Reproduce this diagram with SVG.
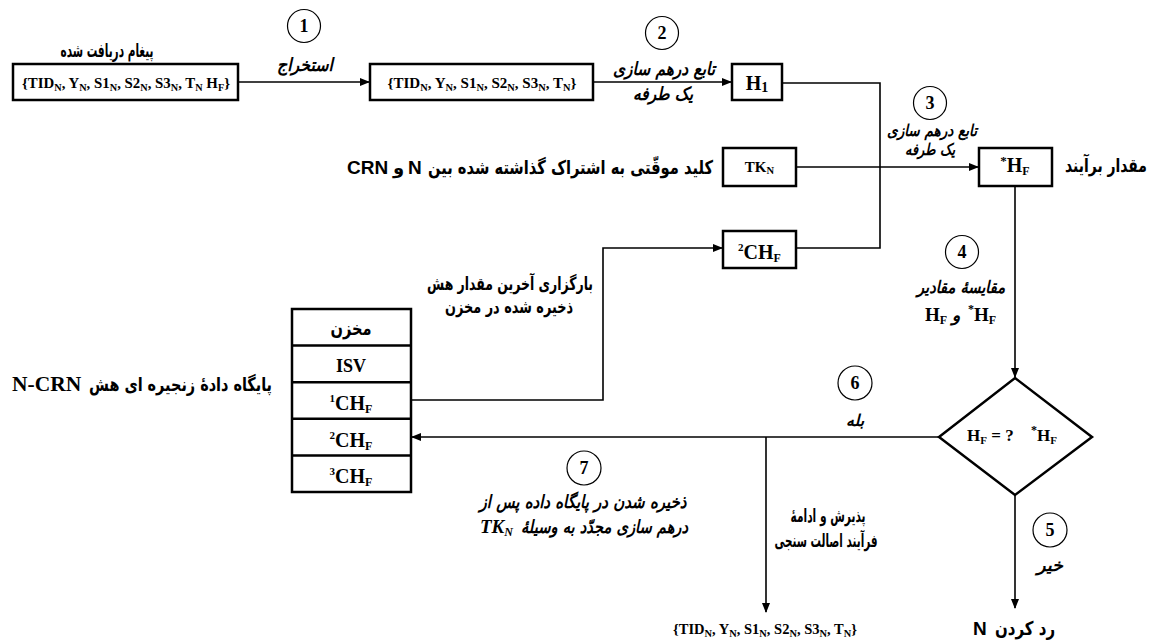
<svg xmlns="http://www.w3.org/2000/svg" width="1152" height="641" viewBox="0 0 1152 641">
<defs>
<style>
.box{fill:#fff;stroke:#000;stroke-width:2.5}
.conn{fill:none;stroke:#000;stroke-width:1.6}
.circ{fill:#fff;stroke:#000;stroke-width:1.2}
.num{font-family:"Liberation Serif",serif;font-weight:bold;font-size:18px;text-anchor:middle}
.lat{font-family:"Liberation Serif",serif;font-weight:bold}
.sans{font-family:"Liberation Sans",Arial,sans-serif;font-weight:bold}
.fa{font-family:"DejaVu Sans",sans-serif;font-weight:bold}
.fai{font-family:"DejaVu Sans",sans-serif;font-weight:bold;font-style:italic}
.mid{text-anchor:middle}
</style>
<marker id="ah" markerWidth="10" markerHeight="8" refX="9" refY="4" orient="auto" markerUnits="userSpaceOnUse"><path d="M0,0 L10,4 L0,8 z" fill="#000"/></marker>
</defs>
<rect width="1152" height="641" fill="#fff"/>

<g id="connectors">
<path class="conn" d="M238,82 H369" marker-end="url(#ah)"/>
<path class="conn" d="M593,82 H731" marker-end="url(#ah)"/>
<path class="conn" d="M782,83 H880 V248 H796"/>
<path class="conn" d="M796,167 H978" marker-end="url(#ah)"/>
<path class="conn" d="M1015,186 V377" marker-end="url(#ah)"/>
<path class="conn" d="M939,437 H412" marker-end="url(#ah)"/>
<path class="conn" d="M766,437 V612" marker-end="url(#ah)"/>
<path class="conn" d="M1015,495 V608" marker-end="url(#ah)"/>
<path class="conn" d="M411,400 H603 V248 H722" marker-end="url(#ah)"/>
</g>

<g id="msg-received">
<text class="fa mid" x="107" y="57" font-size="19" textLength="93" lengthAdjust="spacingAndGlyphs">پیغام دریافت شده</text>
<rect class="box" x="13" y="64" width="225" height="36"/>
<text class="lat mid" x="126" y="88" font-size="14.5" textLength="208" lengthAdjust="spacingAndGlyphs">{TID<tspan font-size="10" dy="3">N</tspan><tspan dy="-3">, Y</tspan><tspan font-size="10" dy="3">N</tspan><tspan dy="-3">, S1</tspan><tspan font-size="10" dy="3">N</tspan><tspan dy="-3">, S2</tspan><tspan font-size="10" dy="3">N</tspan><tspan dy="-3">, S3</tspan><tspan font-size="10" dy="3">N</tspan><tspan dy="-3">, T</tspan><tspan font-size="10" dy="3">N</tspan><tspan dy="-3"> H</tspan><tspan font-size="10" dy="3">F</tspan><tspan dy="-3">}</tspan></text>
</g>

<g id="step1">
<circle class="circ" cx="304" cy="26" r="16.5"/>
<text class="num" x="304" y="32">1</text>
<text class="fai mid" x="305" y="71" font-size="18" textLength="56" lengthAdjust="spacingAndGlyphs">استخراج</text>
</g>

<g id="extracted">
<rect class="box" x="370" y="64" width="223" height="36"/>
<text class="lat mid" x="482" y="88" font-size="14.5" textLength="189" lengthAdjust="spacingAndGlyphs">{TID<tspan font-size="10" dy="3">N</tspan><tspan dy="-3">, Y</tspan><tspan font-size="10" dy="3">N</tspan><tspan dy="-3">, S1</tspan><tspan font-size="10" dy="3">N</tspan><tspan dy="-3">, S2</tspan><tspan font-size="10" dy="3">N</tspan><tspan dy="-3">, S3</tspan><tspan font-size="10" dy="3">N</tspan><tspan dy="-3">, T</tspan><tspan font-size="10" dy="3">N</tspan><tspan dy="-3">}</tspan></text>
</g>

<g id="step2">
<circle class="circ" cx="662" cy="33" r="16.5"/>
<text class="num" x="662" y="39">2</text>
<text class="fai mid" x="664" y="75" font-size="18" textLength="102" lengthAdjust="spacingAndGlyphs">تابع درهم سازی</text>
<text class="fai mid" x="663" y="100" font-size="18" textLength="60" lengthAdjust="spacingAndGlyphs">یک طرفه</text>
</g>

<g id="h1">
<rect class="box" x="732" y="64" width="50" height="36"/>
<text class="lat mid" x="757" y="90" font-size="20">H<tspan font-size="14" dy="2">1</tspan></text>
</g>

<g id="tkn">
<text class="sans" x="347" y="174" font-size="19">CRN</text>
<text class="fa" x="393" y="174" font-size="18">و</text>
<text class="sans" x="408" y="174" font-size="19">N</text>
<text class="fa" x="428" y="174" font-size="19" textLength="285" lengthAdjust="spacingAndGlyphs">کلید موقّتی به اشتراک گذاشته شده بین</text>
<rect class="box" x="723" y="148" width="73" height="38"/>
<text class="lat mid" x="759.5" y="172" font-size="15">TK<tspan font-size="10.5" dy="2">N</tspan></text>
</g>

<g id="chf2-loaded">
<rect class="box" x="723" y="231" width="73" height="37"/>
<text class="lat mid" x="759.5" y="259" font-size="20"><tspan font-size="11" dy="-8">2</tspan><tspan dy="8">CH</tspan><tspan font-size="12" dy="3">F</tspan></text>
</g>

<g id="step3">
<circle class="circ" cx="930" cy="103" r="16.5"/>
<text class="num" x="930" y="109">3</text>
<text class="fai mid" x="932" y="136" font-size="16" textLength="90" lengthAdjust="spacingAndGlyphs">تابع درهم سازی</text>
<text class="fai mid" x="930" y="155" font-size="16" textLength="50" lengthAdjust="spacingAndGlyphs">یک طرفه</text>
</g>

<g id="hf-star">
<rect class="box" x="979" y="148" width="73" height="38"/>
<text class="lat mid" x="1015" y="172" font-size="20"><tspan font-size="13" dy="-7">*</tspan><tspan dy="7">H</tspan><tspan font-size="12" dy="3">F</tspan></text>
<text class="fa" x="1065" y="172" font-size="19" textLength="82" lengthAdjust="spacingAndGlyphs">مقدار برآیند</text>
</g>

<g id="step4">
<circle class="circ" cx="962" cy="252" r="16.5"/>
<text class="num" x="962" y="258">4</text>
<text class="fai mid" x="961" y="293" font-size="17" textLength="88" lengthAdjust="spacingAndGlyphs">مقایسهٔ مقادیر</text>
<text class="lat" x="925" y="321" font-size="19">H<tspan font-size="12" dy="3">F</tspan></text>
<text class="fai" x="952" y="321" font-size="17">و</text>
<text class="lat" x="968" y="321" font-size="19"><tspan font-size="12" dy="-8">*</tspan><tspan dy="8">H</tspan><tspan font-size="12" dy="3">F</tspan></text>
</g>

<g id="decision">
<polygon class="box" points="1015,378 1092,437 1015,495 939,437"/>
<text class="lat" x="967" y="441" font-size="17">H<tspan font-size="11" dy="3">F</tspan><tspan dy="-3"> = ?</tspan></text>
<text class="lat" x="1031" y="441" font-size="17"><tspan font-size="12" dy="-7">*</tspan><tspan dy="7">H</tspan><tspan font-size="11" dy="3">F</tspan></text>
</g>

<g id="step5">
<circle class="circ" cx="1050" cy="530" r="17"/>
<text class="num" x="1050" y="536">5</text>
<text class="fai mid" x="1050" y="571" font-size="17" textLength="26" lengthAdjust="spacingAndGlyphs">خیر</text>
</g>

<g id="reject">
<text class="sans" x="973" y="635" font-size="19">N</text>
<text class="fa" x="995" y="635" font-size="19" textLength="60" lengthAdjust="spacingAndGlyphs">رد کردن</text>
</g>

<g id="step6">
<circle class="circ" cx="855" cy="383" r="17"/>
<text class="num" x="855" y="389">6</text>
<text class="fai mid" x="855" y="426" font-size="16" textLength="18" lengthAdjust="spacingAndGlyphs">بله</text>
</g>

<g id="accept">
<text class="fa mid" x="828" y="522" font-size="18" textLength="75" lengthAdjust="spacingAndGlyphs">پذیرش و ادامهٔ</text>
<text class="fa mid" x="826" y="547" font-size="18" textLength="103" lengthAdjust="spacingAndGlyphs">فرآیند اصالت سنجی</text>
<text class="lat mid" x="765" y="634" font-size="14" textLength="184" lengthAdjust="spacingAndGlyphs">{TID<tspan font-size="10" dy="3">N</tspan><tspan dy="-3">, Y</tspan><tspan font-size="10" dy="3">N</tspan><tspan dy="-3">, S1</tspan><tspan font-size="10" dy="3">N</tspan><tspan dy="-3">, S2</tspan><tspan font-size="10" dy="3">N</tspan><tspan dy="-3">, S3</tspan><tspan font-size="10" dy="3">N</tspan><tspan dy="-3">, T</tspan><tspan font-size="10" dy="3">N</tspan><tspan dy="-3">}</tspan></text>
</g>

<g id="step7">
<circle class="circ" cx="584" cy="468" r="17"/>
<text class="num" x="584" y="474">7</text>
<text class="fai mid" x="583" y="508" font-size="18" textLength="207" lengthAdjust="spacingAndGlyphs">ذخیره شدن در پایگاه داده پس از</text>
<text class="lat" x="480" y="533" font-size="19" font-style="italic">TK<tspan font-size="12" dy="3">N</tspan></text>
<text class="fai" x="521" y="533" font-size="18" textLength="167" lengthAdjust="spacingAndGlyphs">درهم سازی مجدّد به وسیلهٔ</text>
</g>

<g id="load-label">
<text class="fa mid" x="510" y="290" font-size="18" textLength="166" lengthAdjust="spacingAndGlyphs">بارگزاری آخرین مقدار هش</text>
<text class="fa mid" x="509" y="313" font-size="18" textLength="128" lengthAdjust="spacingAndGlyphs">ذخیره شده در مخزن</text>
</g>

<g id="storage">
<rect class="box" x="292" y="309" width="119" height="183"/>
<path d="M292,345.6 H411 M292,382.2 H411 M292,418.8 H411 M292,455.4 H411" stroke="#000" stroke-width="2.5"/>
<text class="fa mid" x="351" y="335" font-size="19" textLength="41" lengthAdjust="spacingAndGlyphs">مخزن</text>
<text class="lat mid" x="351" y="372" font-size="18">ISV</text>
<text class="lat mid" x="351" y="410" font-size="20"><tspan font-size="11" dy="-8">1</tspan><tspan dy="8">CH</tspan><tspan font-size="12" dy="3">F</tspan></text>
<text class="lat mid" x="351" y="447" font-size="20"><tspan font-size="11" dy="-8">2</tspan><tspan dy="8">CH</tspan><tspan font-size="12" dy="3">F</tspan></text>
<text class="lat mid" x="351" y="483" font-size="20"><tspan font-size="11" dy="-8">3</tspan><tspan dy="8">CH</tspan><tspan font-size="12" dy="3">F</tspan></text>
<text class="lat" x="12" y="391" font-size="21.5">N-CRN</text>
<text class="fa" x="89" y="391" font-size="19" textLength="183" lengthAdjust="spacingAndGlyphs">پایگاه دادهٔ زنجیره ای هش</text>
</g>
</svg>
